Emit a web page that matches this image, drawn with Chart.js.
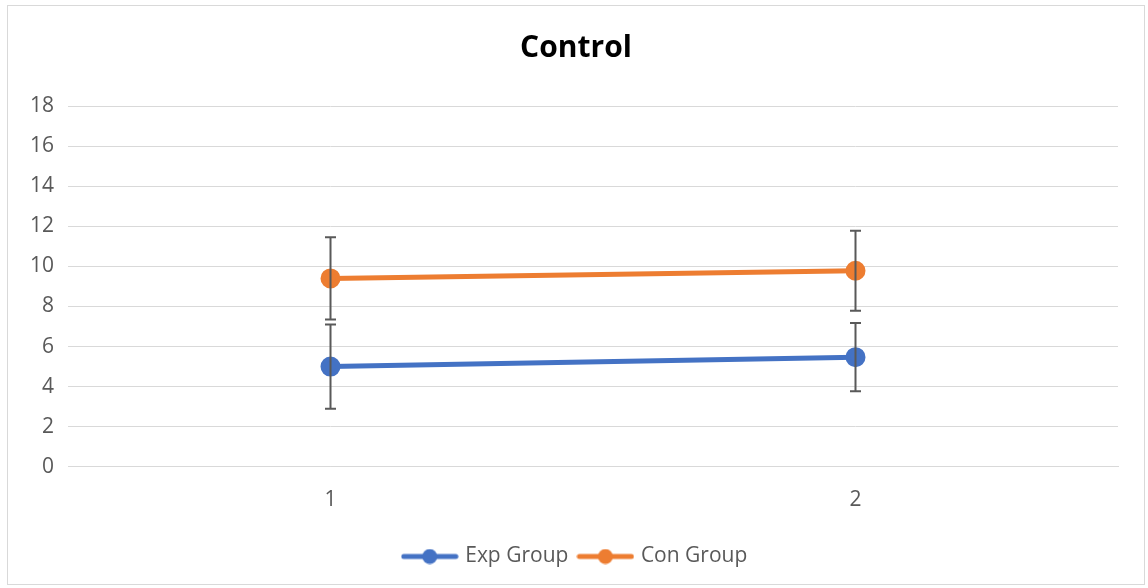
<!DOCTYPE html>
<html>
<head>
<meta charset="utf-8">
<script src="https://cdn.jsdelivr.net/npm/chart.js@4"></script>
<style>
  html,body{margin:0;padding:0;background:#fff;}
  #wrap{position:absolute;left:7px;top:5px;width:1138px;height:580px;border:1px solid #d9d9d9;box-sizing:border-box;background:#fff;}
</style>
</head>
<body>
<div id="wrap"><canvas id="chart"></canvas></div>
<script>
// data
const categories=["1","2"];
const expValues=[5.0,5.47];
const conValues=[9.4,9.78];
const expErr=[2.1,1.7];
const conErr=[2.05,2.0];
const yTicks=[0,2,4,6,8,10,12,14,16,18];

const BLUE="#4472c4";
const ORANGE="#ed7d31";
const GRAY="#595959";

// legend symbol: line with a dot
const legendIcon=(color)=>{
    const c=document.createElement("canvas");
    c.width=58;c.height=16;
    const ctx=c.getContext("2d");
    ctx.strokeStyle=color;ctx.lineWidth=5;ctx.lineCap="round";
    ctx.beginPath();ctx.moveTo(3,8);ctx.lineTo(55,8);ctx.stroke();
    ctx.fillStyle=color;
    ctx.beginPath();ctx.arc(29,8,7.5,0,Math.PI*2);ctx.fill();
    return c;
}

// draws error bars from the arrays above
const errorBars={
    id:"errorBars",
    afterDatasetsDraw(chart){
        const ctx=chart.ctx;
        const y=chart.scales.y;
        chart.data.datasets.forEach((ds,i)=>{
            const meta=chart.getDatasetMeta(i);
            meta.data.forEach((pt,j)=>{
                const v=ds.data[j], e=ds.errors[j];
                const top=y.getPixelForValue(v+e), bot=y.getPixelForValue(v-e);
                ctx.save();
                ctx.strokeStyle=GRAY;ctx.lineWidth=2;
                ctx.beginPath();
                ctx.moveTo(pt.x,top);ctx.lineTo(pt.x,bot);
                ctx.moveTo(pt.x-5.5,top);ctx.lineTo(pt.x+5.5,top);
                ctx.moveTo(pt.x-5.5,bot);ctx.lineTo(pt.x+5.5,bot);
                ctx.stroke();
                ctx.restore();
            })
        })
    }
}

const chart=new Chart(document.getElementById("chart"),{
    type:"line",
    data:{
        labels:categories,
        datasets:[
            {label:"Exp Group",data:expValues,errors:expErr,borderColor:BLUE,backgroundColor:BLUE,borderWidth:5,pointRadius:7.5,pointHoverRadius:7.5,pointStyle:"circle"},
            {label:"Con Group",data:conValues,errors:conErr,borderColor:ORANGE,backgroundColor:ORANGE,borderWidth:5,pointRadius:7.5,pointHoverRadius:7.5,pointStyle:"circle"}
        ]
    },
    options:{
        responsive:true,
        maintainAspectRatio:false,
        animation:false,
        layout:{padding:{left:17,right:17,top:16,bottom:7}},
        plugins:{
            title:{display:true,text:"Control",color:"#000",font:{family:"Open Sans",size:30,weight:"bold"},padding:{top:8,bottom:40}},
            legend:{
                position:"bottom",
                labels:{
                    usePointStyle:true,
                    pointStyleWidth:50,
                    boxHeight:16,
                    color:GRAY,
                    font:{family:"Open Sans",size:21},
                    padding:12,
                    generateLabels:(c)=>c.data.datasets.map((ds,i)=>({
                        text:ds.label,
                        pointStyle:legendIcon(ds.borderColor),
                        fontColor:GRAY,
                        strokeStyle:ds.borderColor,
                        fillStyle:ds.borderColor,
                        lineWidth:0,
                        datasetIndex:i
                    }))
                }
            },
            tooltip:{enabled:false}
        },
        scales:{
            x:{
                offset:true,
                grid:{display:false,drawTicks:false},
                border:{color:"#d9d9d9"},
                ticks:{color:GRAY,font:{family:"Open Sans",size:21},padding:21}
            },
            y:{
                min:0,max:18,
                afterBuildTicks:(s)=>{s.ticks=yTicks.map(v=>({value:v}))},
                afterFit:(s)=>{s.width=43},
                grid:{color:"#d9d9d9",drawTicks:false},
                border:{display:false},
                ticks:{color:GRAY,font:{family:"Open Sans",size:21},padding:14}
            },
            // empty spacer on the right so the plot ends where the original does
            yRight:{
                position:"right",
                afterFit:(s)=>{s.width=9},
                grid:{display:false,drawTicks:false},
                border:{display:false},
                ticks:{display:false}
            }
        }
    },
    plugins:[errorBars]
});
</script>
</body>
</html>
